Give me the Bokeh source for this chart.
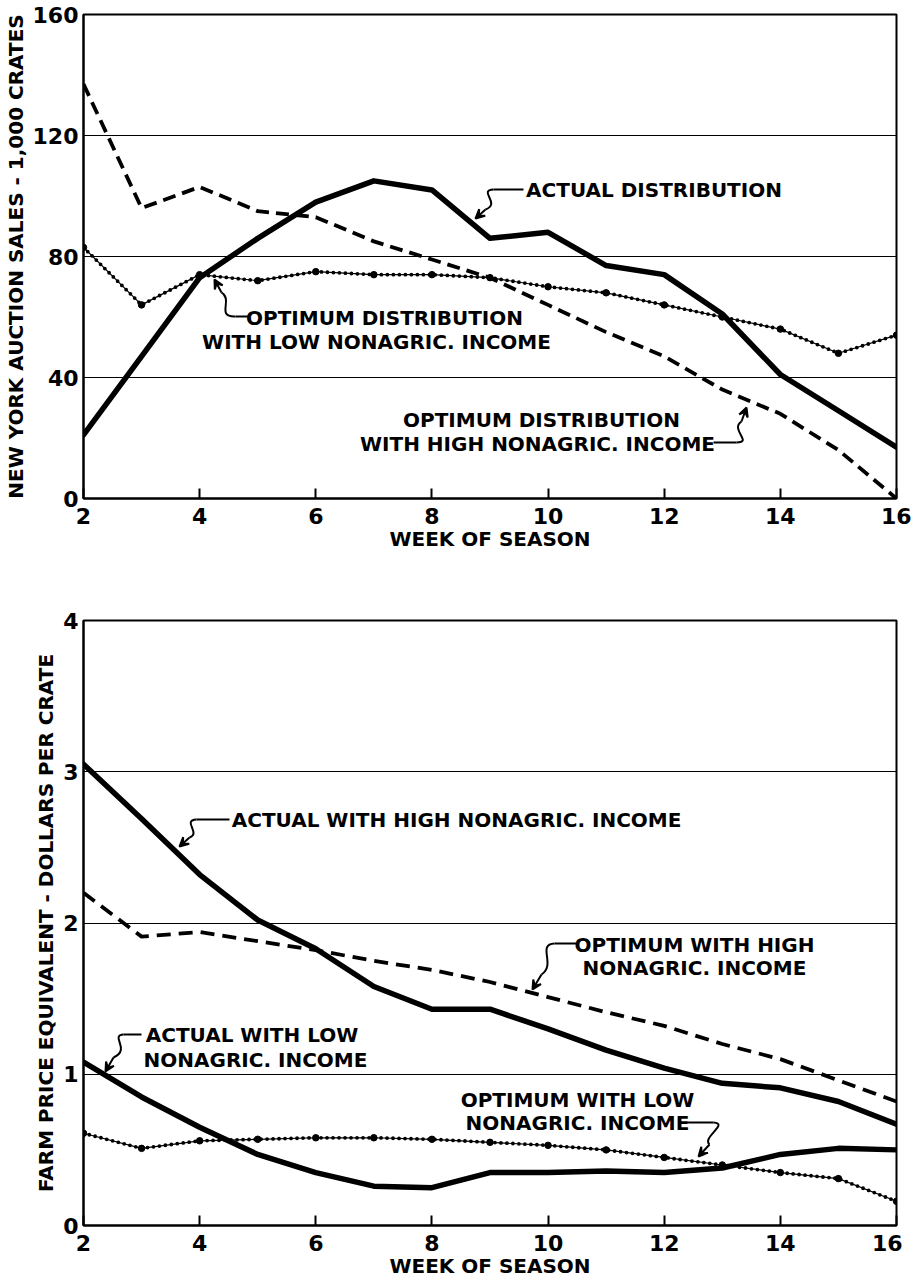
from bokeh.plotting import figure
from bokeh.layouts import column
from bokeh.models import FixedTicker, Arrow, VeeHead, Range1d
from bokeh.core.properties import value
from bokeh.embed import file_html
from bokeh.resources import INLINE

# ---------------- data ----------------
weeks = [2, 3, 4, 5, 6, 7, 8, 9, 10, 11, 12, 13, 14, 15, 16]

# top panel: New York auction sales, 1,000 crates
sales_actual = [21, 47, 73, 86, 98, 105, 102, 86, 88, 77, 74, 61, 41, 29, 17]
sales_opt_high = [137, 96, 103, 95, 93, 85, 79, 73, 64, 55, 47, 36, 28, 16, 0]
sales_opt_low = [83, 64, 74, 72, 75, 74, 74, 73, 70, 68, 64, 60, 56, 48, 54]

# bottom panel: farm price equivalent, dollars per crate
price_actual_high = [3.05, 2.69, 2.32, 2.02, 1.83, 1.58, 1.43, 1.43, 1.30, 1.16, 1.04, 0.94, 0.91, 0.82, 0.67]
price_opt_high = [2.20, 1.91, 1.94, 1.88, 1.82, 1.75, 1.69, 1.61, 1.51, 1.41, 1.32, 1.20, 1.10, 0.96, 0.82]
price_actual_low = [1.08, 0.85, 0.65, 0.47, 0.35, 0.26, 0.25, 0.35, 0.35, 0.36, 0.35, 0.38, 0.47, 0.51, 0.50]
price_opt_low = [0.61, 0.51, 0.56, 0.57, 0.58, 0.58, 0.57, 0.55, 0.53, 0.50, 0.45, 0.40, 0.35, 0.31, 0.16]

x_ticks = [2, 4, 6, 8, 10, 12, 14, 16]
top_ticks = [0, 40, 80, 120, 160]
bot_ticks = [0, 1, 2, 3, 4]
x_label = "WEEK OF SEASON"
top_ylabel = "NEW YORK AUCTION SALES - 1,000 CRATES"
bot_ylabel = "FARM PRICE EQUIVALENT - DOLLARS PER CRATE"

FONT = "DejaVu Sans"
FRAME_W = 813


def make_fig(ymax, yticks, ylabel, border_top, frame_h, border_bottom):
    p = figure(frame_width=FRAME_W, frame_height=frame_h,
               x_range=Range1d(2, 16), y_range=Range1d(0, ymax),
               min_border_left=74, min_border_right=15,
               min_border_top=border_top, min_border_bottom=border_bottom,
               output_backend="svg", toolbar_location=None)
    p.outline_line_color = "black"
    p.outline_line_width = 2
    p.xgrid.visible = False
    p.ygrid.grid_line_color = "black"
    p.ygrid.grid_line_width = 1.2
    p.xaxis.ticker = FixedTicker(ticks=x_ticks)
    p.yaxis.ticker = FixedTicker(ticks=yticks)
    for ax in (p.xaxis, p.yaxis):
        ax.axis_line_color = "black"
        ax.axis_line_width = 2
        ax.minor_tick_line_color = None
        ax.major_label_text_font = FONT
        ax.major_label_text_font_style = "bold"
        ax.major_label_text_font_size = "22px"
        ax.major_label_text_color = "black"
        ax.axis_label_text_font = FONT
        ax.axis_label_text_font_style = "bold"
        ax.axis_label_text_font_size = "20px"
        ax.axis_label_text_color = "black"
    p.xaxis.major_tick_in = 10
    p.xaxis.major_tick_out = 0
    p.xaxis.major_tick_line_width = 2
    p.xaxis.major_tick_line_color = "black"
    p.xaxis.major_label_standoff = 9
    p.xaxis.axis_label_standoff = 0
    p.yaxis.major_tick_in = 0
    p.yaxis.major_tick_out = 0
    p.yaxis.major_label_standoff = 5
    p.yaxis.axis_label_standoff = 2
    p.xaxis.axis_label = x_label
    p.yaxis.axis_label = ylabel
    return p


def draw_solid(p, ys):
    p.line(weeks, ys, line_color="black", line_width=5.5, line_join="round", line_cap="round")


def draw_dashed(p, ys, dash):
    p.line(weeks, ys, line_color="black", line_width=3.8, line_dash=dash)


def draw_dotted(p, ys):
    p.line(weeks, ys, line_color="black", line_width=1.2)
    p.line(weeks, ys, line_color="black", line_width=3.8, line_dash="0 6", line_cap="round")
    p.scatter(weeks, ys, size=6.5, color="black")


def add_texts(p, items, fx, fy):
    p.text(x=[fx(a) for a, b, t in items], y=[fy(b) for a, b, t in items],
           text=[t for a, b, t in items],
           text_font=value(FONT), text_font_style="bold", text_font_size="20px",
           text_color="black", text_align="center", text_baseline="middle")


def add_pointers(p, ptrs, fx, fy):
    for (p0, p1, c1, c2, p2, tip) in ptrs:
        p.segment(x0=[fx(p0[0])], y0=[fy(p0[1])], x1=[fx(p1[0])], y1=[fy(p1[1])],
                  line_color="black", line_width=2)
        p.bezier(x0=[fx(p1[0])], y0=[fy(p1[1])], x1=[fx(p2[0])], y1=[fy(p2[1])],
                 cx0=[fx(c1[0])], cy0=[fy(c1[1])], cx1=[fx(c2[0])], cy1=[fy(c2[1])],
                 line_color="black", line_width=2)
        p.add_layout(Arrow(end=VeeHead(size=9, fill_color="black", line_color="black", line_width=2),
                           x_start=fx(p2[0]), y_start=fy(p2[1]), x_end=fx(tip[0]), y_end=fy(tip[1]),
                           line_color="black", line_width=2))


# pixel -> data helpers for annotation placement (reference picture coordinates)
def tx(px):
    return 2 + (px - 82) * 14 / FRAME_W


def ty_top(py):
    return (499 - py) * 160 / 484


def ty_bot(py):
    return (1226 - py) * 4 / 605


# ---------------- top figure ----------------
p1 = make_fig(160, top_ticks, top_ylabel, 14, 484, 60)
draw_dotted(p1, sales_opt_low)
draw_dashed(p1, sales_opt_high, "13 7")
draw_solid(p1, sales_actual)

add_texts(p1, [
    (656, 190, "ACTUAL  DISTRIBUTION"),
    (383, 318, "OPTIMUM DISTRIBUTION"),
    (375, 342, "WITH LOW NONAGRIC. INCOME"),
    (540, 420, "OPTIMUM DISTRIBUTION"),
    (536, 444, "WITH HIGH NONAGRIC. INCOME"),
], tx, ty_top)

add_pointers(p1, [
    ((522, 190), (492, 190), (476, 191), (500, 204), (484, 210), (474, 219)),
    ((248, 317), (234, 317), (214, 318), (232, 300), (220, 293), (213, 280)),
    ((712, 443), (735, 443), (752, 443), (728, 430), (740, 422), (745, 408)),
], tx, ty_top)

# ---------------- bottom figure ----------------
p2 = make_fig(4, bot_ticks, bot_ylabel, 62, 605, 52)
draw_dotted(p2, price_opt_low)
draw_dashed(p2, price_opt_high, "14 8")
draw_solid(p2, price_actual_high)
draw_solid(p2, price_actual_low)

add_texts(p2, [
    (469, 820, "ACTUAL  WITH  HIGH  NONAGRIC.  INCOME"),
    (693, 945, "OPTIMUM WITH HIGH"),
    (693, 968, "NONAGRIC. INCOME"),
    (254, 1035, "ACTUAL  WITH LOW"),
    (254, 1060, "NONAGRIC. INCOME"),
    (576, 1100, "OPTIMUM WITH LOW"),
    (576, 1123, "NONAGRIC. INCOME"),
], tx, ty_bot)

add_pointers(p2, [
    ((228, 820), (195, 820), (180, 821), (200, 834), (188, 838), (178, 847)),
    ((575, 944), (553, 944), (535, 945), (555, 965), (540, 975), (531, 990)),
    ((140, 1035), (122, 1035), (108, 1036), (130, 1050), (112, 1058), (104, 1072)),
    ((685, 1123), (712, 1123), (728, 1124), (700, 1138), (708, 1145), (697, 1157)),
], tx, ty_bot)

layout = column(p1, p2, spacing=0)
open("out.html", "w").write(file_html(layout, INLINE))
